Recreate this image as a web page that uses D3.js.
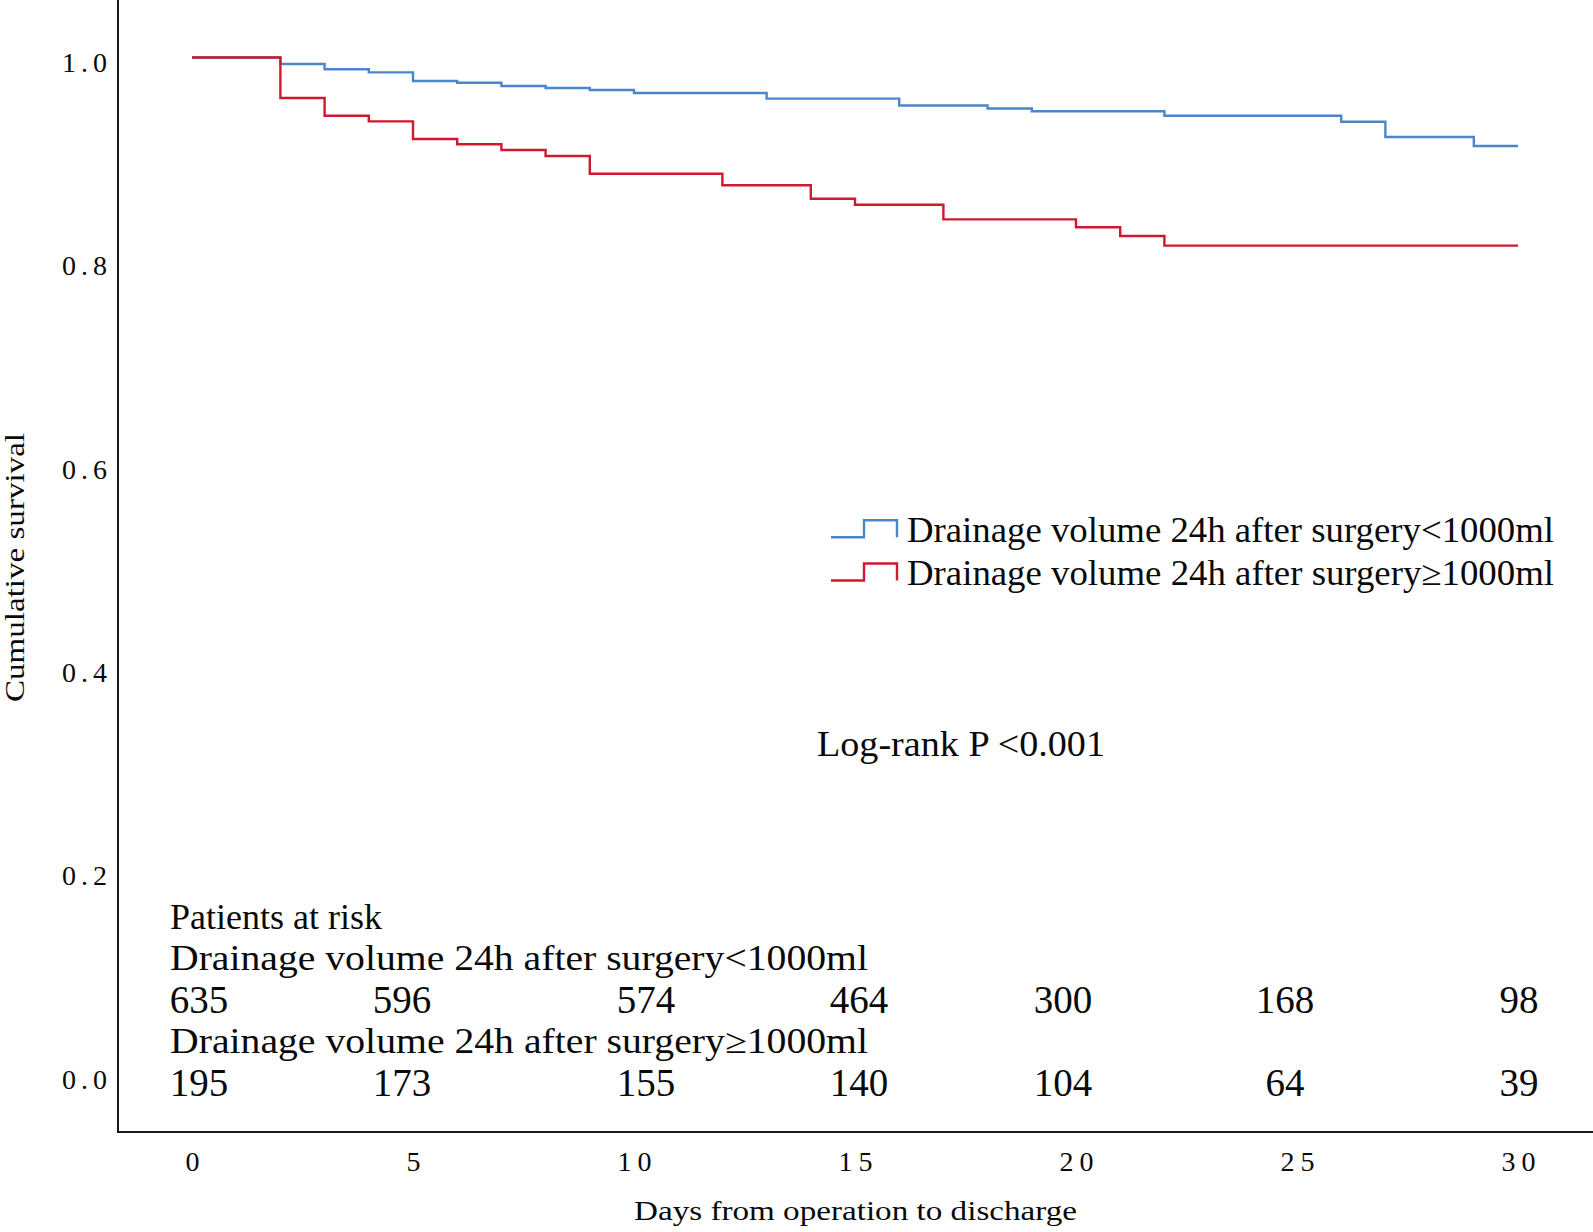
<!DOCTYPE html>
<html><head><meta charset="utf-8">
<script src="https://cdn.jsdelivr.net/npm/d3@7"></script>
<style>
body{margin:0;background:#fff}
svg{display:block;background:#fff}
text{font-family:"Liberation Serif",Tinos,"Times New Roman",Times,serif;fill:#0a0a0a}
</style>
</head><body>
<svg id="chart" width="1593" height="1232"></svg>
<script>
// ---- data ----
const blueDays = [0, 2, 3, 4, 5, 6, 7, 8, 9, 10, 13, 16, 18, 19, 22, 26, 27, 29, 30];
const blueSurvival = [1.0, 0.9936, 0.9884, 0.9854, 0.9769, 0.9752, 0.9720, 0.9700, 0.9680, 0.9651, 0.9595, 0.9528, 0.9498, 0.9471, 0.9427, 0.9368, 0.9218, 0.9129, 0.9129];
const redDays = [0, 2, 3, 4, 5, 6, 7, 8, 9, 12, 14, 15, 17, 20, 21, 22, 30];
const redSurvival = [1.0, 0.9602, 0.9427, 0.9372, 0.9198, 0.9146, 0.9090, 0.9031, 0.8857, 0.8743, 0.8611, 0.8552, 0.8408, 0.8330, 0.8244, 0.8149, 0.8149];
const xTickValues = [0, 5, 10, 15, 20, 25, 30];
const yTickValues = [0, 0.2, 0.4, 0.6, 0.8, 1.0];
const seriesNames = ["Drainage volume 24h after surgery<1000ml", "Drainage volume 24h after surgery\u22651000ml"];
const riskTitle = "Patients at risk";
const riskBlue = [635, 596, 574, 464, 300, 168, 98];
const riskRed = [195, 173, 155, 140, 104, 64, 39];
const pValueText = "Log-rank P <0.001";
const xTitle = "Days from operation to discharge";
const yTitle = "Cumulative survival";

// ---- layout ----
const colors = ["#4a86c8", "#d0182e"];
const riskCenters = [199, 402, 646, 859, 1063, 1285, 1519];
const FONT = '"Liberation Serif",Tinos,"Times New Roman",Times,serif';

const svg = d3.select("#chart");
const x = d3.scaleLinear().domain([0, 30]).range([192, 1518]);
const y = d3.scaleLinear().domain([0, 1]).range([1074, 57.5]);

// axis lines
svg.append("line").attr("x1", 118).attr("x2", 118).attr("y1", 0).attr("y2", 1133)
  .attr("stroke", "#1a1a1a").attr("stroke-width", 2);
svg.append("line").attr("x1", 117).attr("x2", 1593).attr("y1", 1132).attr("y2", 1132)
  .attr("stroke", "#1a1a1a").attr("stroke-width", 2);

// x axis labels
const gx = svg.append("g").attr("transform", "translate(0,1171)")
  .call(d3.axisBottom(x).tickValues(xTickValues).tickSize(0).tickPadding(0).tickFormat(d3.format("d")));
gx.select(".domain").remove();
gx.selectAll("text")
  .attr("y", 0).attr("dy", null)
  .attr("font-size", 28).attr("fill", "#0a0a0a")
  .style("font-family", FONT)
  .each(function(d){ if (String(d).length > 1) d3.select(this).attr("textLength", 34).attr("lengthAdjust", "spacing"); });

// y axis labels
const gy = svg.append("g").attr("transform", "translate(107,0)")
  .call(d3.axisLeft(y).tickValues(yTickValues).tickSize(0).tickPadding(0).tickFormat(d3.format(".1f")));
gy.select(".domain").remove();
gy.selectAll("text")
  .attr("x", 0).attr("dy", null).attr("y", 14)
  .attr("text-anchor", "end")
  .attr("font-size", 28).attr("fill", "#0a0a0a")
  .style("font-family", FONT)
  .attr("textLength", 45).attr("lengthAdjust", "spacing");

// axis titles
svg.append("text").attr("x", 855.5).attr("y", 1220).attr("text-anchor", "middle")
  .attr("font-size", 28).attr("textLength", 443).attr("lengthAdjust", "spacingAndGlyphs")
  .text(xTitle);
svg.append("text").attr("transform", "translate(24,567.5) rotate(-90)").attr("text-anchor", "middle")
  .attr("font-size", 26.5).attr("textLength", 269).attr("lengthAdjust", "spacingAndGlyphs")
  .text(yTitle);

// survival curves
const line = d3.line().x(d => x(d[0])).y(d => y(d[1])).curve(d3.curveStepAfter);
const series = [d3.zip(blueDays, blueSurvival), d3.zip(redDays, redSurvival)];
series.forEach((s, i) => {
  svg.append("path").datum(s).attr("d", line)
    .attr("fill", "none").attr("stroke", colors[i]).attr("stroke-width", 2.4)
    .attr("stroke-linejoin", "miter");
});

// legend
const legendBase = [541.7, 585];
seriesNames.forEach((name, i) => {
  const b = legendBase[i];
  const lo = b - 4.5, hi = b - 21.5;
  svg.append("path")
    .attr("d", `M831,${lo}H864V${hi}H897V${lo}`)
    .attr("fill", "none").attr("stroke", colors[i]).attr("stroke-width", 2.4);
  svg.append("text").attr("x", 907).attr("y", b)
    .attr("font-size", 35).attr("textLength", 647).attr("lengthAdjust", "spacingAndGlyphs")
    .text(name);
});

// log-rank
svg.append("text").attr("x", 817).attr("y", 756)
  .attr("font-size", 36).attr("textLength", 288).attr("lengthAdjust", "spacingAndGlyphs")
  .text(pValueText);

// risk table
svg.append("text").attr("x", 170).attr("y", 929)
  .attr("font-size", 35).attr("textLength", 212).attr("lengthAdjust", "spacingAndGlyphs")
  .text(riskTitle);
const rowLabelBase = [970, 1053];
const rowNumBase = [1013, 1096];
[riskBlue, riskRed].forEach((vals, i) => {
  svg.append("text").attr("x", 170).attr("y", rowLabelBase[i])
    .attr("font-size", 35).attr("textLength", 698).attr("lengthAdjust", "spacingAndGlyphs")
    .text(seriesNames[i]);
  svg.append("g").selectAll("text").data(vals).join("text")
    .attr("x", (d, j) => riskCenters[j]).attr("y", rowNumBase[i])
    .attr("text-anchor", "middle").attr("font-size", 39)
    .text(d => d);
});
</script>
</body></html>
